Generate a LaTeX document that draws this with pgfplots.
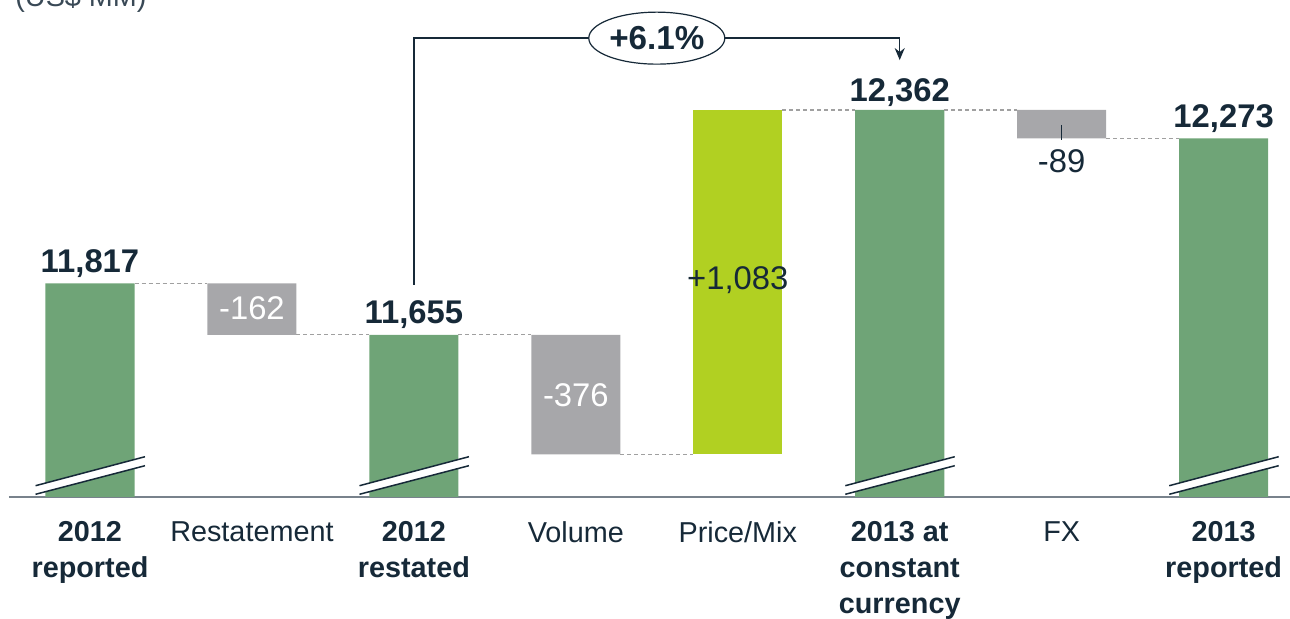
\documentclass[border=0pt]{standalone}
\usepackage{fontspec}
\setmainfont{Liberation Sans}
\usepackage{pgfplots}
\pgfplotsset{compat=1.18}
\usetikzlibrary{shapes.geometric,arrows.meta}
\definecolor{barGreen}{RGB}{111,164,119}
\definecolor{barLime}{RGB}{177,208,34}
\definecolor{barGray}{RGB}{167,167,170}
\definecolor{txt}{RGB}{22,41,56}
\definecolor{axisgray}{RGB}{120,130,140}
\definecolor{dashgray}{RGB}{160,160,160}
\newcommand\valfont{\fontsize{16.4pt}{18pt}\selectfont}
\newcommand\catfont{\fontsize{14.4pt}{18pt}\selectfont}
\begin{document}
\begin{tikzpicture}
\pgfplotsset{commonax/.style={at={(4.5pt,61pt)}, anchor=south west,
  scale only axis, width=640.5pt, height=248.5pt,
  xmin=-0.5, xmax=7.41, ymin=11145, ymax=12708}}
\begin{axis}[commonax, ybar stacked, bar width=0.55,
  axis x line=bottom, axis y line=none,
  x axis line style={-, draw=axisgray, line width=1pt},
  xtick={0,...,7}, major tick length=0pt, ytick=\empty,
  xticklabels={{\textbf{2012}\\\textbf{reported}}, Restatement, {\textbf{2012}\\\textbf{restated}}, Volume, Price/Mix, {\textbf{2013 at}\\\textbf{constant}\\\textbf{currency}}, FX, {\textbf{2013}\\\textbf{reported}}},
  xticklabel style={font=\catfont, text=txt, align=center, anchor=north, inner sep=0pt, yshift=-12pt}]
\addplot[draw=none, fill=none] coordinates {(0,0) (1,11655) (2,0) (3,11279) (4,11279) (5,0) (6,12273) (7,0)};
\addplot[draw=none, fill=barGreen] coordinates {(0,11817) (1,0) (2,11655) (3,0) (4,0) (5,12362) (6,0) (7,12273)};
\addplot[draw=none, fill=barGray] coordinates {(0,0) (1,162) (2,0) (3,376) (4,0) (5,0) (6,89) (7,0)};
\addplot[draw=none, fill=barLime] coordinates {(0,0) (1,0) (2,0) (3,0) (4,1083) (5,0) (6,0) (7,0)};
\end{axis}
\begin{axis}[commonax, hide axis, clip=false]
% dashed connectors
\pgfplotsset{conn/.style={dashgray, line width=0.6pt, dash pattern=on 2pt off 1.5pt, mark=none}}
\addplot[conn] coordinates {(0.275,11817) (0.725,11817)};
\addplot[conn] coordinates {(1.275,11655) (1.725,11655)};
\addplot[conn] coordinates {(2.275,11655) (2.725,11655)};
\addplot[conn] coordinates {(3.275,11279) (3.725,11279)};
\addplot[conn] coordinates {(4.275,12362) (4.725,12362)};
\addplot[conn] coordinates {(5.275,12362) (5.725,12362)};
\addplot[conn] coordinates {(6.275,12273) (6.725,12273)};
% axis breaks
\pgfplotsinvokeforeach{0,2,5,7}{
  \fill[white] ({#1-0.336},11180.5) -- ({#1+0.34},11271.7) -- ({#1+0.34},11243.4) -- ({#1-0.336},11153.5) -- cycle;
  \draw[txt, line width=0.75pt] ({#1-0.336},11180.5) -- ({#1+0.34},11271.7);
  \draw[txt, line width=0.75pt] ({#1-0.336},11153.5) -- ({#1+0.34},11243.4);
}
% total labels
\node[anchor=base, font=\valfont\bfseries, text=txt, inner sep=0pt, yshift=5.5pt] at (0,11817) {11,817};
\node[anchor=base, font=\valfont\bfseries, text=txt, inner sep=0pt, yshift=5.5pt] at (2,11655) {11,655};
\node[anchor=base, font=\valfont\bfseries, text=txt, inner sep=0pt, yshift=4.5pt] at (5,12362) {12,362};
\node[anchor=base, font=\valfont\bfseries, text=txt, inner sep=0pt, yshift=5.5pt] at (7,12273) {12,273};
% delta labels
\node[anchor=base, font=\valfont, text=white, inner sep=0pt] at (1,11702) {-162};
\node[anchor=base, font=\valfont, text=white, inner sep=0pt] at (3,11428) {-376};
\node[anchor=base, font=\valfont, text=txt, inner sep=0pt] at (4,11796) {+1,083};
\node[anchor=base, font=\valfont, text=txt, inner sep=0pt] at (6,12164) {-89};
\draw[txt, line width=0.6pt] (6,12315) -- (6,12268);
% growth annotation
\draw[txt, line width=0.75pt, -{Stealth[length=6pt,width=5pt]}] (2,11812) |- (5,12588) -- (5,12519);
\node[draw=txt, line width=0.6pt, fill=white, ellipse, minimum width=68pt, minimum height=26pt, inner sep=0pt, font=\fontsize{16.6pt}{18pt}\selectfont\bfseries, text=txt] at (3.5,12588) {+6.1\%};
\end{axis}
\node[anchor=base west, font=\catfont, text=txt!85, inner sep=0pt] at (7.5pt,306pt) {(US\$ MM)};
\pgfresetboundingbox
\path[use as bounding box] (0,0) rectangle (645pt,309.5pt);
\end{tikzpicture}
\end{document}
